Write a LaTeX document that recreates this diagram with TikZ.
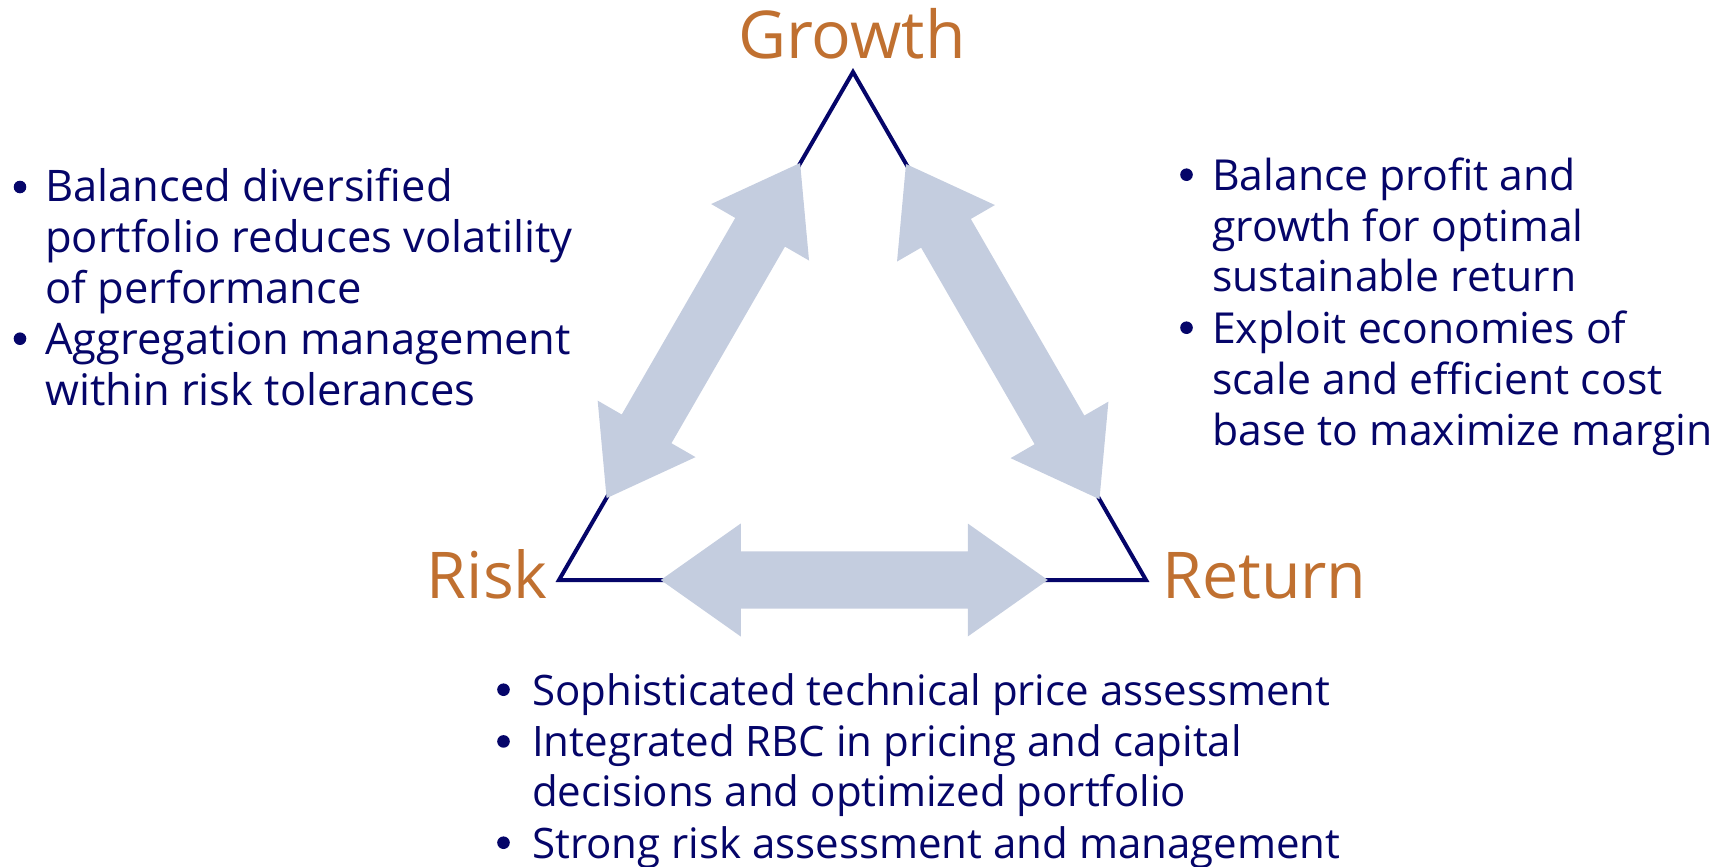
\documentclass[tikz,border=0pt]{standalone}
\usepackage{fontspec}
\setmainfont{Open Sans}
\usetikzlibrary{calc}
\definecolor{navy}{RGB}{5,5,105}
\definecolor{rust}{RGB}{192,112,48}
\definecolor{steel}{RGB}{196,205,223}
\tikzset{
 corner/.style={text=rust,inner sep=0pt,font=\fontsize{64.5}{64.5}\selectfont},
 item/.style={text=navy,inner sep=0pt,align=left,anchor=base west,font=\fontsize{42}{50.7}\selectfont},
 pics/dblarrow/.style={code={
  \fill[steel] (-193.5,0) -- (-113.5,56.5) -- (-113.5,28.7) -- (113.5,28.7) -- (113.5,56.5)
   -- (193.5,0) -- (113.5,-56.5) -- (113.5,-28.7) -- (-113.5,-28.7) -- (-113.5,-56.5) -- cycle;}}
}
\begin{document}
\begin{tikzpicture}[x=1pt,y=-1pt]
\useasboundingbox (0,0) rectangle (1725,867);
% triangle corners
\coordinate (top) at (853,72);
\coordinate (lft) at (559,580);
\coordinate (rgt) at (1146,580);
\draw[navy,line width=4pt,miter limit=4] (top) -- (lft) -- (rgt) -- cycle;

\pic[rotate=60] at ($(lft)!0.491!(top)$) {dblarrow};
\pic[rotate=-60] at ($(top)!0.511!(rgt)$) {dblarrow};
\pic at ($(lft)!0.503!(rgt)$) {dblarrow};

\node[corner,anchor=base,font=\fontsize{66}{66}\selectfont] (grw) at (852,59) {Growth};
\node[corner,anchor=base east] (rsk) at (548,598) {Risk};
\node[corner,anchor=base west] (ret) at (1162,598) {Return};

% bullet lists (node base = last line)
\node[item,font=\fontsize{43.5}{50.7}\selectfont] (l1) at (45,303.3) {Balanced diversified\\portfolio reduces volatility\\of performance};
\node[item,font=\fontsize{43.5}{50.7}\selectfont] (l2) at (45,405) {Aggregation management\\within risk tolerances};
\node[item,font=\fontsize{42.7}{50.7}\selectfont] (r1) at (1212,291.7) {Balance profit and\\growth for optimal\\sustainable return};
\node[item,font=\fontsize{42.7}{50.7}\selectfont] (r2) at (1212,445) {Exploit economies of\\scale and efficient cost\\base to maximize margin};
\node[item] (b1) at (532,705) {Sophisticated technical price assessment};
\node[item] (b2) at (532,806.7) {Integrated RBC in pricing and capital\\decisions and optimized portfolio};
\node[item] (b3) at (532,858) {Strong risk assessment and management};
% list dots, 15pt above each first baseline
\foreach \x/\y in {20/202.3,20/354,1186.5/190,1186.5/343,503.5/705,503.5/756.7,503.5/858}
 \fill[navy] (\x,\y-15.3) circle (6.3);
\end{tikzpicture}
\end{document}
